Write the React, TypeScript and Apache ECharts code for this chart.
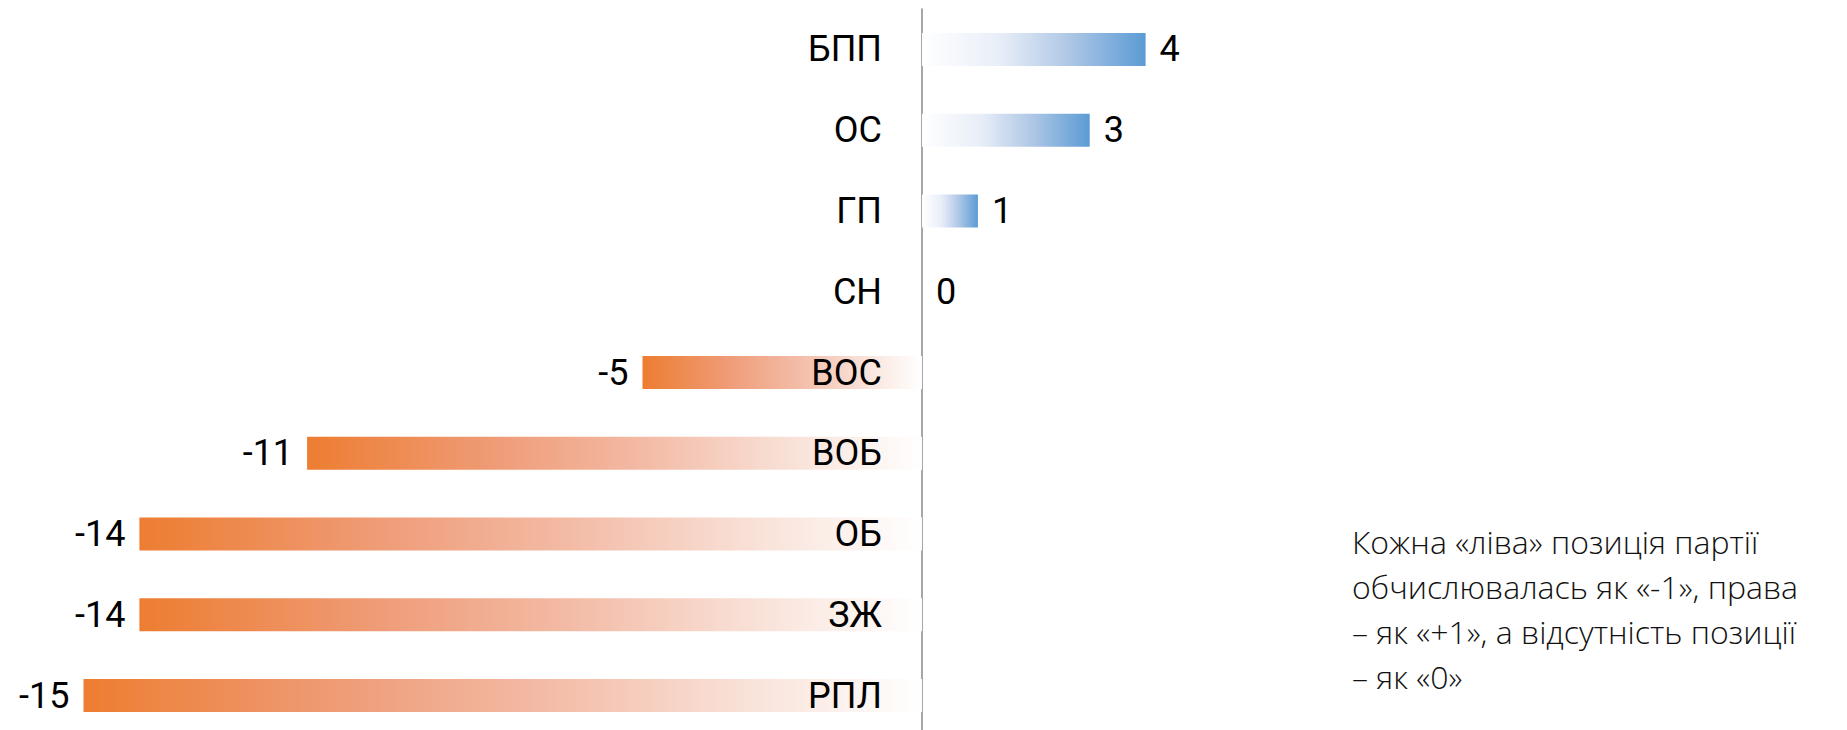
import React, { useEffect, useRef } from "react";
import * as echarts from "echarts";

const categories = ["БПП", "ОС", "ГП", "СН", "ВОС", "ВОБ", "ОБ", "ЗЖ", "РПЛ"];
const values = [4, 3, 1, 0, -5, -11, -14, -14, -15];
const axisMin = -15;
const axisMax = 15;
const noteLines = [
  "Кожна «ліва» позиція партії",
  "обчислювалась як «-1», права",
  "– як «+1», а відсутність позиції",
  "– як «0»",
];

const FONT = "Roboto, 'Noto Sans', sans-serif";

export default function App() {
  const ref = useRef<HTMLDivElement>(null);
  useEffect(() => {
    if (!ref.current) return;
    const chart = echarts.init(ref.current, undefined, { renderer: "svg" });
    const posGrad = () =>
      new echarts.graphic.LinearGradient(0, 0, 1, 0, [
        { offset: 0, color: "#ffffff" },
        { offset: 0.35, color: "#e8eef8" },
        { offset: 0.65, color: "#b0c8e6" },
        { offset: 1, color: "#5B9BD5" },
      ]);
    const negGrad = () =>
      new echarts.graphic.LinearGradient(0, 0, 1, 0, [
        { offset: 0, color: "#ED7D31" },
        { offset: 0.3, color: "#EF9B76" },
        { offset: 0.55, color: "#F3BBA6" },
        { offset: 0.8, color: "#F9E3DA" },
        { offset: 1, color: "#FFFFFF" },
      ]);
    const data = values.map((v) => ({
      value: v,
      itemStyle: { color: v < 0 ? negGrad() : posGrad() },
      label: { position: v < 0 ? "left" : "right" },
    }));
    chart.setOption({
      animation: false,
      backgroundColor: "#ffffff",
      grid: {
        left: 83.5,
        right: 86.5,
        top: 9,
        height: 727,
        containLabel: false,
        outerBoundsMode: "none",
      },
      xAxis: {
        type: "value",
        min: axisMin,
        max: axisMax,
        show: false,
        splitLine: { show: false },
      },
      yAxis: {
        type: "category",
        data: categories,
        inverse: true,
        axisTick: { show: false },
        axisLine: { show: true, onZero: true, lineStyle: { color: "#8a8a8a", width: 1.5 } },
        axisLabel: { show: false },
      },
      series: [
        {
          type: "bar",
          data,
          barWidth: 33,
          z: 2,
          label: {
            show: true,
            distance: 14,
            fontSize: 36,
            color: "#000",
            fontFamily: FONT,
          },
        },
        {
          type: "bar",
          data: categories.map(() => 0),
          barWidth: 33,
          barGap: "-100%",
          z: 5,
          itemStyle: { color: "rgba(0,0,0,0)" },
          silent: true,
          label: {
            show: true,
            position: "left",
            distance: 40,
            formatter: (p: any) => p.name,
            fontSize: 36,
            color: "#000",
            fontFamily: FONT,
          },
        },
      ],
      graphic: [
        {
          type: "text",
          left: 1352,
          top: 519,
          z: 20,
          style: {
            text: noteLines.join("\n"),
            fontSize: 32,
            lineHeight: 45,
            fontFamily: "'Open Sans', 'Noto Sans', sans-serif",
            fontWeight: 300,
            fill: "#111",
          },
        },
      ],
    });
    return () => chart.dispose();
  }, []);
  return (
    <div
      ref={ref}
      style={{ position: "absolute", left: 0, top: 0, width: 1847, height: 730 }}
    />
  );
}
